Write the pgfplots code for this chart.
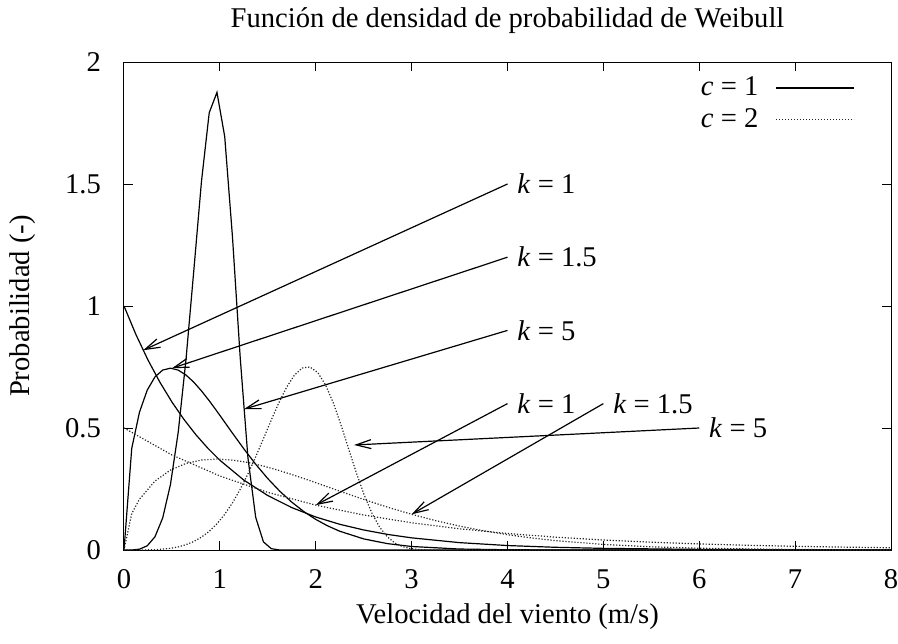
\documentclass[border=0pt]{standalone}
\usepackage{fontspec}
\setmainfont{Liberation Serif}
\usepackage{pgfplots}
\pgfplotsset{compat=1.18}
\usetikzlibrary{arrows.meta}

\tikzset{
  solidc/.style={black, line width=0.6pt},
  dotc/.style={black!85, line width=0.6pt, dash pattern=on 0.6pt off 0.9pt},
  arr/.style={black, line width=0.6pt, -{Straight Barb[length=7.5pt, width=4.5pt]}},
  lab/.style={anchor=west, inner sep=0pt},
}

% Weibull density samples, f(v) = (k/c) (v/c)^(k-1) exp(-(v/c)^k)
% c = 1
\pgfplotstableread{
x y
0 1
0.125 0.8825
0.25 0.7788
0.375 0.6873
0.5 0.6065
0.625 0.5353
0.75 0.4724
0.875 0.4169
1 0.3679
1.25 0.2865
1.5 0.2231
1.75 0.1738
2 0.1353
2.25 0.1054
2.5 0.0821
2.75 0.0639
3 0.0498
3.5 0.0302
4 0.0183
4.5 0.0111
5 0.0067
6 0.0025
7 0.0009
8 0.0003
}\cAkA
\pgfplotstableread{
x y
0 0
0.0808 0.4167
0.1616 0.5651
0.2424 0.6554
0.3232 0.7096
0.4040 0.7375
0.4848 0.7452
0.5657 0.7372
0.6465 0.7172
0.7273 0.6880
0.8081 0.6521
0.8889 0.6117
0.9697 0.5685
1.0505 0.5238
1.125 0.4824
1.25 0.4146
1.375 0.3508
1.5 0.2926
1.625 0.2409
1.75 0.1961
1.875 0.1576
2 0.1254
2.125 0.0987
2.25 0.0770
2.5 0.0455
2.75 0.0260
3 0.0144
3.5 0.0040
4 0.0010
4.5 0.0002
5 0
8 0
}\cAkB
\pgfplotstableread{
x y
0 0
0.0808 0.0002
0.1616 0.0034
0.2424 0.0173
0.3232 0.0544
0.4040 0.1318
0.4848 0.2690
0.5657 0.4832
0.6465 0.7802
0.7273 1.1415
0.8081 1.5107
0.8889 1.7921
0.9697 1.8756
1.0505 1.6941
1.1313 1.2839
1.2121 0.7886
1.2929 0.3770
1.3737 0.1337
1.4545 0.0333
1.5354 0.0055
1.6162 0.0006
1.6970 0
8 0
}\cAkC
% c = 2
\pgfplotstableread{
x y
0 0.5
0.5 0.3894
1 0.3033
1.5 0.2362
2 0.1839
2.5 0.1433
3 0.1116
3.5 0.0869
4 0.0677
4.5 0.0527
5 0.0410
5.5 0.0320
6 0.0249
6.5 0.0194
7 0.0151
7.5 0.0118
8 0.0092
}\cBkA
\pgfplotstableread{
x y
0 0
0.0808 0.1495
0.1616 0.2084
0.3232 0.2826
0.4848 0.3277
0.6465 0.3548
0.8081 0.3688
0.9697 0.3726
1.1313 0.3686
1.2929 0.3586
1.4545 0.3440
1.6162 0.3261
1.7778 0.3059
1.9394 0.2843
2.1010 0.2619
2.25 0.2412
2.5 0.2073
2.75 0.1754
3 0.1463
3.25 0.1205
3.5 0.0980
3.75 0.0788
4 0.0627
4.25 0.0494
4.5 0.0385
5 0.0228
5.5 0.0130
6 0.0072
7 0.0020
8 0.0005
}\cBkB
\pgfplotstableread{
x y
0 0
0.1616 0.0001
0.3232 0.0014
0.4848 0.0069
0.5657 0.0128
0.6465 0.0218
0.7273 0.0347
0.8081 0.0527
0.8889 0.0767
0.9697 0.1076
1.0505 0.1463
1.1313 0.1933
1.2121 0.2487
1.2929 0.3121
1.3737 0.3822
1.4545 0.4566
1.5354 0.5321
1.6162 0.6043
1.6970 0.6678
1.7778 0.7168
1.8586 0.7459
1.9394 0.7502
2.0202 0.7274
2.1010 0.6776
2.1818 0.6043
2.2626 0.5136
2.3434 0.4140
2.4242 0.3154
2.5051 0.2257
2.5859 0.1508
2.6667 0.0935
2.7475 0.0535
2.8283 0.0280
2.9091 0.0133
2.9899 0.0057
3.0707 0.0022
3.1515 0.0007
3.2323 0.0002
3.5 0
8 0
}\cBkC

\begin{document}
\begin{tikzpicture}[font=\fontsize{14.3}{17}\selectfont]
\begin{axis}[
  at={(0pt,0pt)}, anchor=south west,
  scale only axis, width=383.5pt, height=244pt,
  xmin=0, xmax=8, ymin=0, ymax=2,
  xtick={0,1,...,8}, ytick={0,0.5,1,1.5,2},
  tick align=inside, major tick length=4.5pt,
  every tick/.style={black, line width=0.5pt},
  axis line style={line width=0.5pt},
  /pgf/number format/assume math mode=true,
  xticklabel style={anchor=base, yshift=-19.25pt},
  yticklabel style={anchor=east, xshift=-8pt},
  title={Función de densidad de probabilidad de Weibull},
  title style={at={(axis description cs:0.5,1.047)}, anchor=base},
  xlabel={Velocidad del viento (m/s)},
  xlabel style={at={(axis description cs:0.5,-0.1496)}, anchor=base},
  ylabel={Probabilidad (-)},
  ylabel style={at={(axis description cs:-0.1317,0.5)}, anchor=center},
  legend style={at={(axis description cs:1,1)}, anchor=north east,
    xshift=-18pt, yshift=-7.3pt, draw=none, fill=none, inner sep=0pt,
    nodes={inner sep=0pt}, row sep=5pt, column sep=8.5pt},
  legend plot pos=right, legend cell align=right,
  legend image code/.code={\draw[#1] (0pt,0pt) -- (39pt,0pt);},
]
\addlegendimage{solidc}
\addlegendentry{\textit{c} = 1}
\addlegendimage{dotc}
\addlegendentry{\textit{c} = 2}

\addplot[solidc, forget plot] table {\cAkA};
\addplot[solidc, forget plot] table {\cAkB};
\addplot[solidc, forget plot] table {\cAkC};
\addplot[dotc, forget plot] table {\cBkA};
\addplot[dotc, forget plot] table {\cBkB};
\addplot[dotc, forget plot] table {\cBkC};

% shape labels for c = 1
\node[lab] at (axis cs:4.1,1.5) {\textit{k} = 1};
\node[lab] at (axis cs:4.1,1.2) {\textit{k} = 1.5};
\node[lab] at (axis cs:4.1,0.9) {\textit{k} = 5};
\draw[arr] (axis cs:4,1.5) -- (axis cs:0.2,0.8187);
\draw[arr] (axis cs:4,1.2) -- (axis cs:0.5,0.7448);
\draw[arr] (axis cs:4,0.9) -- (axis cs:1.25,0.577);
% shape labels for c = 2
\node[lab] at (axis cs:4.1,0.6) {\textit{k} = 1};
\node[lab] at (axis cs:5.1,0.6) {\textit{k} = 1.5};
\node[lab] at (axis cs:6.1,0.5) {\textit{k} = 5};
\draw[arr] (axis cs:4,0.6) -- (axis cs:2,0.1839);
\draw[arr] (axis cs:5,0.6) -- (axis cs:3,0.1463);
\draw[arr] (axis cs:6,0.5) -- (axis cs:2.4,0.4304);
\end{axis}
\pgfresetboundingbox
\path[use as bounding box] (-62pt,-46.5pt) rectangle (387pt,275pt);
\end{tikzpicture}
\end{document}
